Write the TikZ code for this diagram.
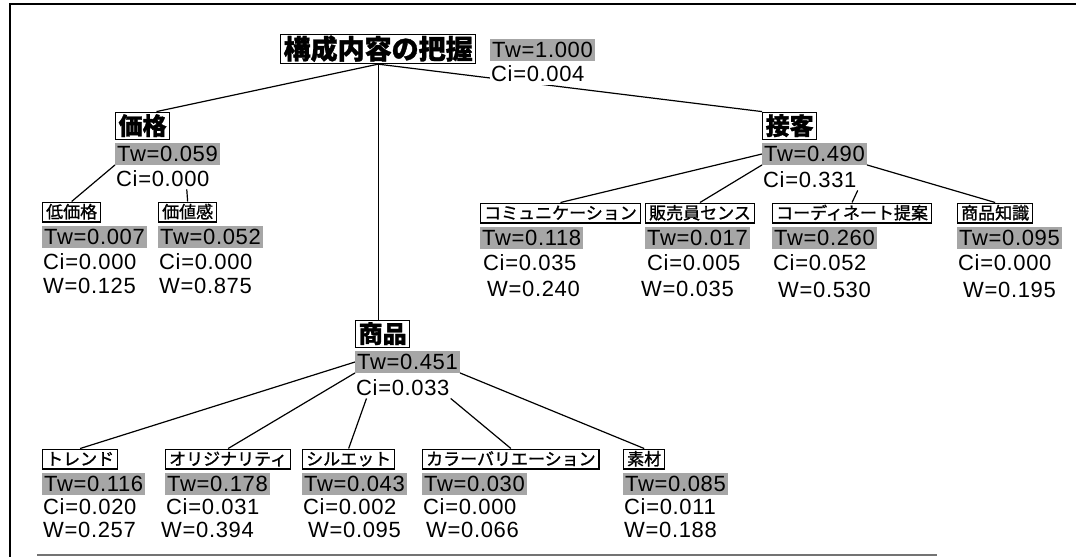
\documentclass[tikz,border=0pt]{standalone}
\usepackage{fontspec}
\setmainfont{Liberation Sans}[LetterSpace=3]
\newfontfamily\jp{Noto Sans CJK JP}[FakeBold=1.2]
\usetikzlibrary{calc,backgrounds}
\tikzset{
 lab/.style={draw=black, line width=1.3pt, fill=white, anchor=west, inner xsep=3pt, inner ysep=1.5pt},
 labroot/.style={lab, font=\jp\bfseries\fontsize{27}{27}\selectfont, text height=23pt, text depth=3pt},
 labmid/.style={lab, font=\jp\bfseries\fontsize{24}{24}\selectfont, inner ysep=2pt, text height=20.5pt, text depth=3pt},
 leaf/.style={lab, font=\jp\fontsize{17}{17}\selectfont, inner xsep=3.5pt, text height=14.5pt, text depth=2.2pt},
 tw/.style={fill=black!35, anchor=west, inner xsep=2pt, inner ysep=2.5pt, text height=16pt, text depth=0.5pt, font=\fontsize{22}{22}\selectfont},
 val/.style={anchor=west, inner xsep=1pt, inner ysep=2pt, text height=16pt, text depth=0.5pt, font=\fontsize{22}{22}\selectfont},
 conn/.style={line width=1.2pt, black},
 frameline/.style={line width=1.5pt, black},
}
\begin{document}
\begin{tikzpicture}[x=1pt,y=-1pt]
\useasboundingbox (0,0) rectangle (1076,557);
% frame
\draw[frameline] (9,4) -- (1076,4);
\draw[frameline] (10,4) -- (10,557);
\draw[line width=1.2pt, black!55] (37,555) -- (937,555);

% root
\node[labroot] (root) at (280,49) {構成内容の把握};
\node[tw] (twroot) at (490,50) {Tw=1.000};
\node[val, fill=white, inner ysep=3pt] (ciroot) at (490,74) {Ci=0.004};

% 価格
\node[labmid] (kakaku) at (115,126) {価格};
\node[tw] (twkakaku) at (115,154) {Tw=0.059};
\node[val] (cikakaku) at (115,179) {Ci=0.000};

\node[leaf] (teikakaku) at (42,212) {低価格};
\node[tw] (twteik) at (42,237) {Tw=0.007};
\node[val] (citeik) at (42,262) {Ci=0.000};
\node[val] (wteik) at (42,286) {W=0.125};

\node[leaf] (kachikan) at (158,212) {価値感};
\node[tw] (twkachi) at (158,237) {Tw=0.052};
\node[val] (cikachi) at (158,262) {Ci=0.000};
\node[val] (wkachi) at (158,286) {W=0.875};

% 接客
\node[labmid] (sekkyaku) at (762,126) {接客};
\node[tw] (twsek) at (762,154) {Tw=0.490};
\node[val] (cisek) at (762,180) {Ci=0.331};

\node[leaf] (comm) at (480,213) {コミュニケーション};
\node[tw] (twcomm) at (480,238) {Tw=0.118};
\node[val] (cicomm) at (482,263) {Ci=0.035};
\node[val] (wcomm) at (486,289) {W=0.240};

\node[leaf] (hanbai) at (645,213) {販売員センス};
\node[tw] (twhanbai) at (645,238) {Tw=0.017};
\node[val] (cihanbai) at (646,263) {Ci=0.005};
\node[val] (whanbai) at (640,289) {W=0.035};

\node[leaf] (coord) at (772,213) {コーディネート提案};
\node[tw] (twcoord) at (772,238) {Tw=0.260};
\node[val] (cicoord) at (772,263) {Ci=0.052};
\node[val] (wcoord) at (777,290) {W=0.530};

\node[leaf] (chishiki) at (957,213) {商品知識};
\node[tw] (twchishiki) at (957,238) {Tw=0.095};
\node[val] (cichishiki) at (957,263) {Ci=0.000};
\node[val] (wchishiki) at (962,290) {W=0.195};

% 商品
\node[labmid] (shohin) at (355,334) {商品};
\node[tw] (twshohin) at (355,362) {Tw=0.451};
\node[val] (cishohin) at (355,388) {Ci=0.033};

\node[leaf] (trend) at (42,459) {トレンド};
\node[tw] (twtrend) at (42,484) {Tw=0.116};
\node[val] (citrend) at (42,507) {Ci=0.020};
\node[val] (wtrend) at (42,530) {W=0.257};

\node[leaf] (orig) at (165,459) {オリジナリティ};
\node[tw] (tworig) at (165,484) {Tw=0.178};
\node[val] (ciorig) at (165,507) {Ci=0.031};
\node[val] (worig) at (160,530) {W=0.394};

\node[leaf] (silh) at (302,459) {シルエット};
\node[tw] (twsilh) at (302,484) {Tw=0.043};
\node[val] (cisilh) at (302,507) {Ci=0.002};
\node[val] (wsilh) at (307,530) {W=0.095};

\node[leaf] (color) at (422,459) {カラーバリエーション};
\node[tw] (twcolor) at (422,484) {Tw=0.030};
\node[val] (cicolor) at (422,507) {Ci=0.000};
\node[val] (wcolor) at (425,530) {W=0.066};

\node[leaf] (sozai) at (623,459) {素材};
\node[tw] (twsozai) at (623,484) {Tw=0.085};
\node[val] (cisozai) at (623,507) {Ci=0.011};
\node[val] (wsozai) at (623,530) {W=0.188};

% connectors
\begin{scope}[on background layer]
\draw[conn] (root.south) -- ($(kakaku.north)!0.5!(kakaku.north east)$);
\draw[conn] (root.south) -- (root.south |- shohin.north);
\draw[conn] (root.south) -- (sekkyaku.north west);

\draw[conn] (twkakaku.south west) -- (teikakaku.north);
\draw[conn] ($(cikakaku.south)!0.5!(cikakaku.south east)$) -- (kachikan.north);

\draw[conn] (twsek.west) -- (comm.north);
\draw[conn] (twsek.south west) -- (hanbai.north);
\draw[conn] (cisek.south east) -- (coord.north);
\draw[conn] (twsek.south east) -- (chishiki.north);

\draw[conn] (twshohin.west) -- (trend.north);
\draw[conn] (twshohin.south west) -- (orig.north);
\draw[conn] ($(cishohin.south west)!0.12!(cishohin.south east)$) -- (silh.north);
\draw[conn] (cishohin.south east) -- (color.north);
\draw[conn] (twshohin.south east) -- (sozai.north);
\end{scope}
\end{tikzpicture}
\end{document}
